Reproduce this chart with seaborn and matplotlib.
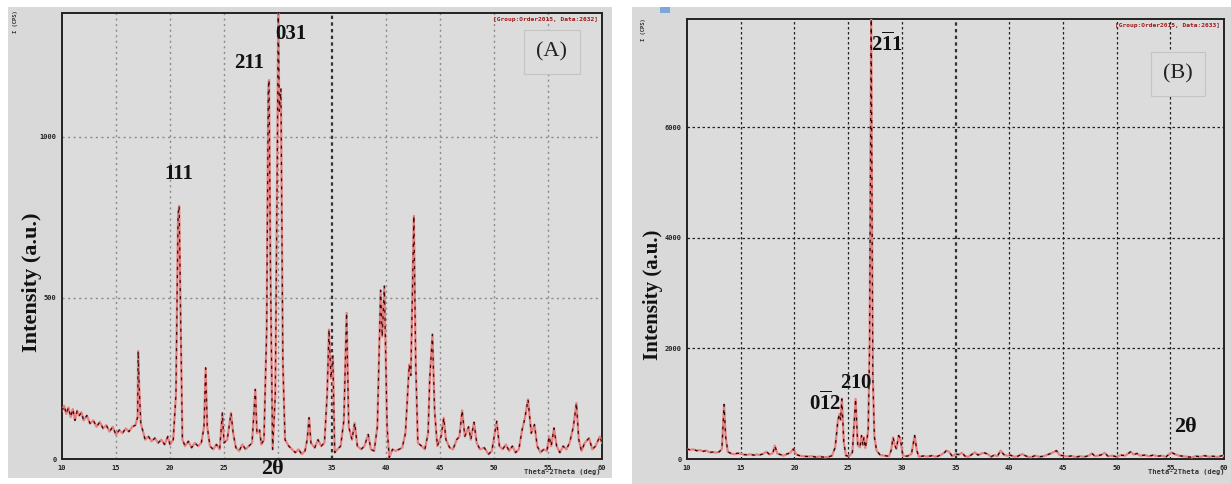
import matplotlib
matplotlib.use("Agg")
import matplotlib.pyplot as plt
import seaborn as sns
import pandas as pd
from matplotlib.patches import Rectangle

# ---------------- data ----------------
a_two_theta = [10.0, 10.2, 10.4, 10.6, 10.8, 11.0, 11.2, 11.4, 11.6, 11.8, 12.0, 12.3, 12.6, 12.9, 13.2,
               13.5, 13.8, 14.1, 14.4, 14.7, 15.0, 15.3, 15.6, 15.9, 16.2, 16.5, 16.8, 17.0, 17.05, 17.15,
               17.3, 17.5, 17.7, 18.0, 18.3, 18.6, 18.9, 19.2, 19.5, 19.8, 20.0, 20.3, 20.55, 20.75, 20.85,
               21.0, 21.15, 21.4, 21.7, 22.0, 22.3, 22.6, 22.9, 23.15, 23.3, 23.45, 23.7, 24.0, 24.3, 24.6,
               24.85, 25.0, 25.3, 25.65, 25.85, 26.1, 26.4, 26.7, 27.0, 27.3, 27.6, 27.9, 28.05, 28.3, 28.45,
               28.7, 28.95, 29.1, 29.17, 29.3, 29.5, 29.75, 29.95, 30.02, 30.12, 30.27, 30.45, 30.65, 31.0,
               31.3, 31.6, 31.9, 32.2, 32.5, 32.7, 32.88, 33.05, 33.4, 33.7, 34.0, 34.3, 34.55, 34.72, 34.9,
               35.08, 35.25, 35.5, 35.8, 36.1, 36.35, 36.55, 36.85, 37.1, 37.35, 37.7, 38.0, 38.35, 38.6,
               38.9, 39.2, 39.5, 39.65, 39.85, 40.1, 40.3, 40.6, 40.9, 41.2, 41.5, 41.8, 42.15, 42.3, 42.58,
               42.75, 42.95, 43.3, 43.6, 43.9, 44.05, 44.3, 44.5, 44.75, 45.1, 45.35, 45.55, 45.9, 46.2,
               46.55, 46.8, 47.05, 47.3, 47.65, 47.85, 48.15, 48.4, 48.7, 49.1, 49.5, 49.8, 50.25, 50.5,
               50.8, 51.1, 51.4, 51.7, 52.0, 52.3, 52.6, 52.85, 53.15, 53.45, 53.75, 54.0, 54.3, 54.6, 54.9,
               55.1, 55.3, 55.55, 55.8, 56.1, 56.4, 56.7, 57.0, 57.35, 57.63, 57.85, 58.1, 58.4, 58.8, 59.1,
               59.4, 59.8, 60.0]
a_intensity = [150, 165, 140, 160, 130, 155, 120, 150, 135, 145, 120, 135, 110, 120, 100,
               115, 95, 105, 85, 100, 75, 90, 80, 95, 85, 100, 105, 130, 335, 220,
               110, 85, 60, 70, 55, 65, 50, 60, 45, 70, 45, 60, 200, 760, 786,
               400, 60, 40, 55, 35, 50, 40, 50, 100, 283, 100, 40, 30, 45, 30,
               143, 50, 60, 143, 80, 35, 25, 45, 30, 40, 50, 216, 80, 90, 45,
               60, 400, 1150, 1177, 600, 30, 200, 1000, 1400, 1080, 1149, 300, 60, 40,
               30, 20, 30, 15, 25, 60, 128, 50, 35, 60, 40, 50, 200, 402, 250,
               320, 20, 30, 40, 120, 454, 100, 60, 112, 40, 30, 40, 76, 30,
               25, 100, 524, 380, 537, 100, 5, 30, 25, 30, 35, 80, 293, 260, 755,
               300, 50, 40, 30, 80, 250, 387, 150, 40, 70, 128, 60, 35, 30,
               60, 70, 151, 70, 100, 60, 114, 50, 30, 35, 15, 25, 117, 40,
               30, 45, 25, 40, 20, 30, 90, 125, 185, 80, 107, 40, 20, 30, 25,
               70, 40, 96, 40, 20, 40, 30, 50, 100, 174, 60, 25, 50, 65, 30,
               40, 70, 50]

b_two_theta = [10.0, 10.3, 10.6, 10.9, 11.2, 11.5, 11.8, 12.1, 12.4, 12.7, 13.0, 13.25, 13.45, 13.6, 13.8,
               14.1, 14.4, 14.7, 15.0, 15.3, 15.6, 15.9, 16.2, 16.5, 16.8, 17.1, 17.4, 17.7, 18.0, 18.18,
               18.4, 18.7, 19.0, 19.3, 19.6, 19.9, 20.2, 20.5, 20.8, 21.2, 21.6, 22.0, 22.4, 22.8, 23.2,
               23.5, 23.8, 24.05, 24.2, 24.3, 24.42, 24.6, 24.8, 25.1, 25.4, 25.7, 25.9, 26.1, 26.25, 26.38,
               26.47, 26.6, 26.75, 26.87, 27.0, 27.15, 27.3, 27.45, 27.65, 28.0, 28.4, 28.8, 29.0, 29.19,
               29.35, 29.5, 29.7, 29.85, 30.1, 30.5, 30.9, 31.2, 31.4, 31.6, 32.0, 32.4, 32.8, 33.2, 33.6,
               34.0, 34.14, 34.4, 34.7, 35.0, 35.3, 35.6, 35.9, 36.2, 36.5, 36.8, 37.1, 37.4, 37.7, 38.0,
               38.3, 38.6, 38.9, 39.2, 39.5, 39.8, 40.1, 40.5, 40.8, 41.2, 41.6, 42.0, 42.4, 42.8, 43.2,
               43.6, 44.0, 44.4, 44.7, 45.0, 45.4, 45.8, 46.2, 46.6, 47.0, 47.4, 47.7, 48.0, 48.5, 48.9,
               49.2, 49.6, 50.0, 50.4, 50.8, 51.3, 51.6, 51.9, 52.2, 52.6, 53.0, 53.4, 53.8, 54.2, 54.6,
               55.1, 55.4, 55.8, 56.2, 56.6, 57.0, 57.4, 57.8, 58.2, 58.6, 59.0, 59.4, 59.8, 60.0]
b_intensity = [181, 165, 175, 150, 160, 140, 150, 120, 125, 115, 130, 180, 985, 400, 130,
               100, 85, 105, 95, 80, 75, 85, 70, 80, 75, 95, 130, 80, 110, 242,
               100, 80, 60, 90, 110, 181, 80, 60, 50, 45, 50, 35, 45, 30, 40,
               60, 211, 700, 815, 700, 1087, 300, 60, 50, 120, 1087, 250, 211, 423, 250,
               393, 200, 350, 513, 2000, 7955, 1500, 400, 150, 70, 60, 50, 150, 393,
               250, 180, 423, 380, 60, 50, 90, 423, 150, 40, 55, 45, 60, 40, 70,
               120, 151, 130, 50, 90, 80, 110, 50, 40, 80, 120, 70, 100, 110, 90,
               40, 70, 50, 151, 80, 60, 70, 40, 50, 90, 50, 30, 60, 40, 50,
               80, 110, 151, 70, 60, 45, 55, 35, 50, 40, 60, 100, 50, 70, 110,
               50, 60, 40, 70, 60, 130, 80, 100, 60, 70, 50, 70, 50, 60, 40,
               120, 90, 60, 50, 40, 30, 50, 40, 60, 40, 50, 35, 60, 55]

x_ticks = [10, 15, 20, 25, 30, 35, 40, 45, 50, 55, 60]
a_x_tick_labels = ["10", "15", "20", "25", "", "35", "40", "45", "50", "55", "60"]  # "30" hidden under 2θ
b_x_tick_labels = ["10", "15", "20", "25", "30", "35", "40", "45", "50", "55", "60"]
a_y_ticks = [0, 500, 1000]
b_y_ticks = [0, 2000, 4000, 6000]

a_peak_labels = ["111", "211", "031"]
a_peak_label_pos = [(20.8, 885), (27.3, 1230), (31.2, 1320)]
b_peak_labels = [r"$\mathbf{0}\overline{\mathbf{1}}\mathbf{2}$", r"$\mathbf{210}$",
                 r"$\mathbf{2}\overline{\mathbf{1}}\mathbf{1}$"]
b_peak_label_pos = [(22.9, 1030), (25.8, 1400), (28.6, 7520)]

# ---------------- style ----------------
sns.set_theme(style="white")
plt.rcParams['font.family'] = ['DejaVu Sans']
plt.rcParams['mathtext.fontset'] = 'custom'
plt.rcParams['mathtext.rm'] = 'Liberation Serif'
plt.rcParams['mathtext.bf'] = 'Liberation Serif:bold'

W, H = 1231, 484
fig = plt.figure(figsize=(W / 100, H / 100), dpi=100, facecolor="white")

bg = "#d9d9d9"
fig.patches.append(Rectangle((8 / W, 1 - 478 / H), (612 - 8) / W, (478 - 7) / H,
                             transform=fig.transFigure, facecolor=bg, edgecolor="none", zorder=-5))
fig.patches.append(Rectangle((632 / W, 0), (W - 632) / W, 1 - 7 / H,
                             transform=fig.transFigure, facecolor=bg, edgecolor="none", zorder=-5))
fig.patches.append(Rectangle((660 / W, 1 - 13 / H), 10 / W, 6 / H,
                             transform=fig.transFigure, facecolor="#7ea6d8", edgecolor="none", zorder=-4))


def fx(px):
    return px / W


def fy(py):
    return 1 - py / H


axA = fig.add_axes([fx(62), fy(459), fx(602) - fx(62), fy(13) - fy(459)], zorder=2)
axB = fig.add_axes([fx(687), fy(459), fx(1224) - fx(687), fy(19) - fy(459)], zorder=2)

mono = "DejaVu Sans Mono"
serif = "Liberation Serif"


def style_axes(ax, xlabels, yticks, ymax, gridcol, gridls, gridlw):
    ax.set_facecolor("#dcdcdc")
    ax.set_xlim(10, 60)
    ax.set_ylim(0, ymax)
    ax.set_xticks(x_ticks)
    ax.set_yticks(yticks)
    ax.set_xticklabels(xlabels, fontfamily=mono, fontsize=5, fontweight="bold")
    ax.set_yticklabels([str(t) for t in yticks], fontfamily=mono, fontsize=5, fontweight="bold")
    ax.tick_params(axis="both", direction="out", length=2.5, width=0.8, pad=1.5, colors="#222222")
    for s in ax.spines.values():
        s.set_color("#222222")
        s.set_linewidth(1.4)
    for t in x_ticks[1:-1]:
        if t == 35:
            ax.axvline(t, color="#333333", ls=(0, (1.5, 1.5)), lw=1.6, zorder=1)
        else:
            ax.axvline(t, color=gridcol, ls=gridls, lw=gridlw, zorder=1)
    for t in yticks[1:]:
        ax.axhline(t, color=gridcol, ls=gridls, lw=gridlw, zorder=1)
    ax.set_xlabel("")
    ax.set_ylabel("")


dfA = pd.DataFrame({"two_theta": a_two_theta, "intensity": a_intensity})
dfB = pd.DataFrame({"two_theta": b_two_theta, "intensity": b_intensity})

for ax, df, dark in [(axA, dfA, "#3c0a0a"), (axB, dfB, "#2a0808")]:
    sns.lineplot(data=df, x="two_theta", y="intensity", ax=ax, color="#e88080", linewidth=1.6,
                 estimator=None, sort=False, zorder=3)
    sns.lineplot(data=df, x="two_theta", y="intensity", ax=ax, color=dark, linewidth=0.9,
                 linestyle=(0, (2.5, 4)), estimator=None, sort=False, zorder=4)

style_axes(axA, a_x_tick_labels, a_y_ticks, 1385, "#8a8a8a", (0, (1.5, 2.5)), 1.0)
style_axes(axB, b_x_tick_labels, b_y_ticks, 7955, "#222222", (0, (2, 2)), 0.9)
axB.set_yticks([1000, 3000, 5000, 7000], minor=True)
axB.tick_params(axis="y", which="minor", direction="out", length=2, width=0.8)

# peak labels
for lab, (x, y) in zip(a_peak_labels, a_peak_label_pos):
    axA.text(x, y, lab, fontfamily=serif, fontweight="bold", fontsize=15, ha="center", va="center",
             color="#111111", zorder=6)
for lab, (x, y) in zip(b_peak_labels, b_peak_label_pos):
    axB.text(x, y, lab, fontsize=15, ha="center", va="center", color="#111111", zorder=6)

# panel letters
box = dict(boxstyle="square,pad=0.55", facecolor="#dcdcdc", edgecolor="#c4c4c4", linewidth=0.8)
axA.text(0.907, 0.912, "(A)", transform=axA.transAxes, fontfamily=serif, fontsize=16,
         ha="center", va="center", color="#222222", bbox=box, zorder=6)
axB.text(0.915, 0.875, "(B)", transform=axB.transAxes, fontfamily=serif, fontsize=16,
         ha="center", va="center", color="#222222", bbox=box, zorder=6)

# 2theta labels
fig.text(fx(272), fy(469), "2θ", fontfamily=serif, fontweight="bold", fontsize=16, ha="center",
         va="center", color="#111111", zorder=5)
axB.text(56.4, 580, "2θ", fontfamily=serif, fontweight="bold", fontsize=16, ha="center",
         va="center", color="#111111", zorder=6)

# y labels
fig.text(fx(32), fy(282), "Intensity (a.u.)", fontfamily=serif, fontweight="bold", fontsize=16,
         rotation=90, ha="center", va="center", color="#111111")
fig.text(fx(653), fy(295), "Intensity (a.u.)", fontfamily=serif, fontweight="bold", fontsize=15,
         rotation=90, ha="center", va="center", color="#111111")

# small instrument texts
fig.text(fx(15), fy(22), "I (CPS)", fontfamily=mono, fontsize=4, fontweight="bold", rotation=90,
         ha="center", va="center", color="#333333")
fig.text(fx(644), fy(30), "I (CPS)", fontfamily=mono, fontsize=4, fontweight="bold", rotation=90,
         ha="center", va="center", color="#333333")
axA.text(0.993, 0.99, "[Group:Order2015, Data:2632]", transform=axA.transAxes, fontfamily=mono,
         fontsize=4.5, fontweight="bold", ha="right", va="top", color="#a01818", zorder=6)
axB.text(0.993, 0.99, "[Group:Order2015, Data:2633]", transform=axB.transAxes, fontfamily=mono,
         fontsize=4.5, fontweight="bold", ha="right", va="top", color="#a01818", zorder=6)
fig.text(fx(601), fy(472), "Theta-2Theta (deg)", fontfamily=mono, fontsize=5, fontweight="bold",
         ha="right", va="center", color="#333333")
fig.text(fx(1224), fy(472), "Theta-2Theta (deg)", fontfamily=mono, fontsize=5, fontweight="bold",
         ha="right", va="center", color="#333333")

fig.savefig("out.png", dpi=100, facecolor="white")
